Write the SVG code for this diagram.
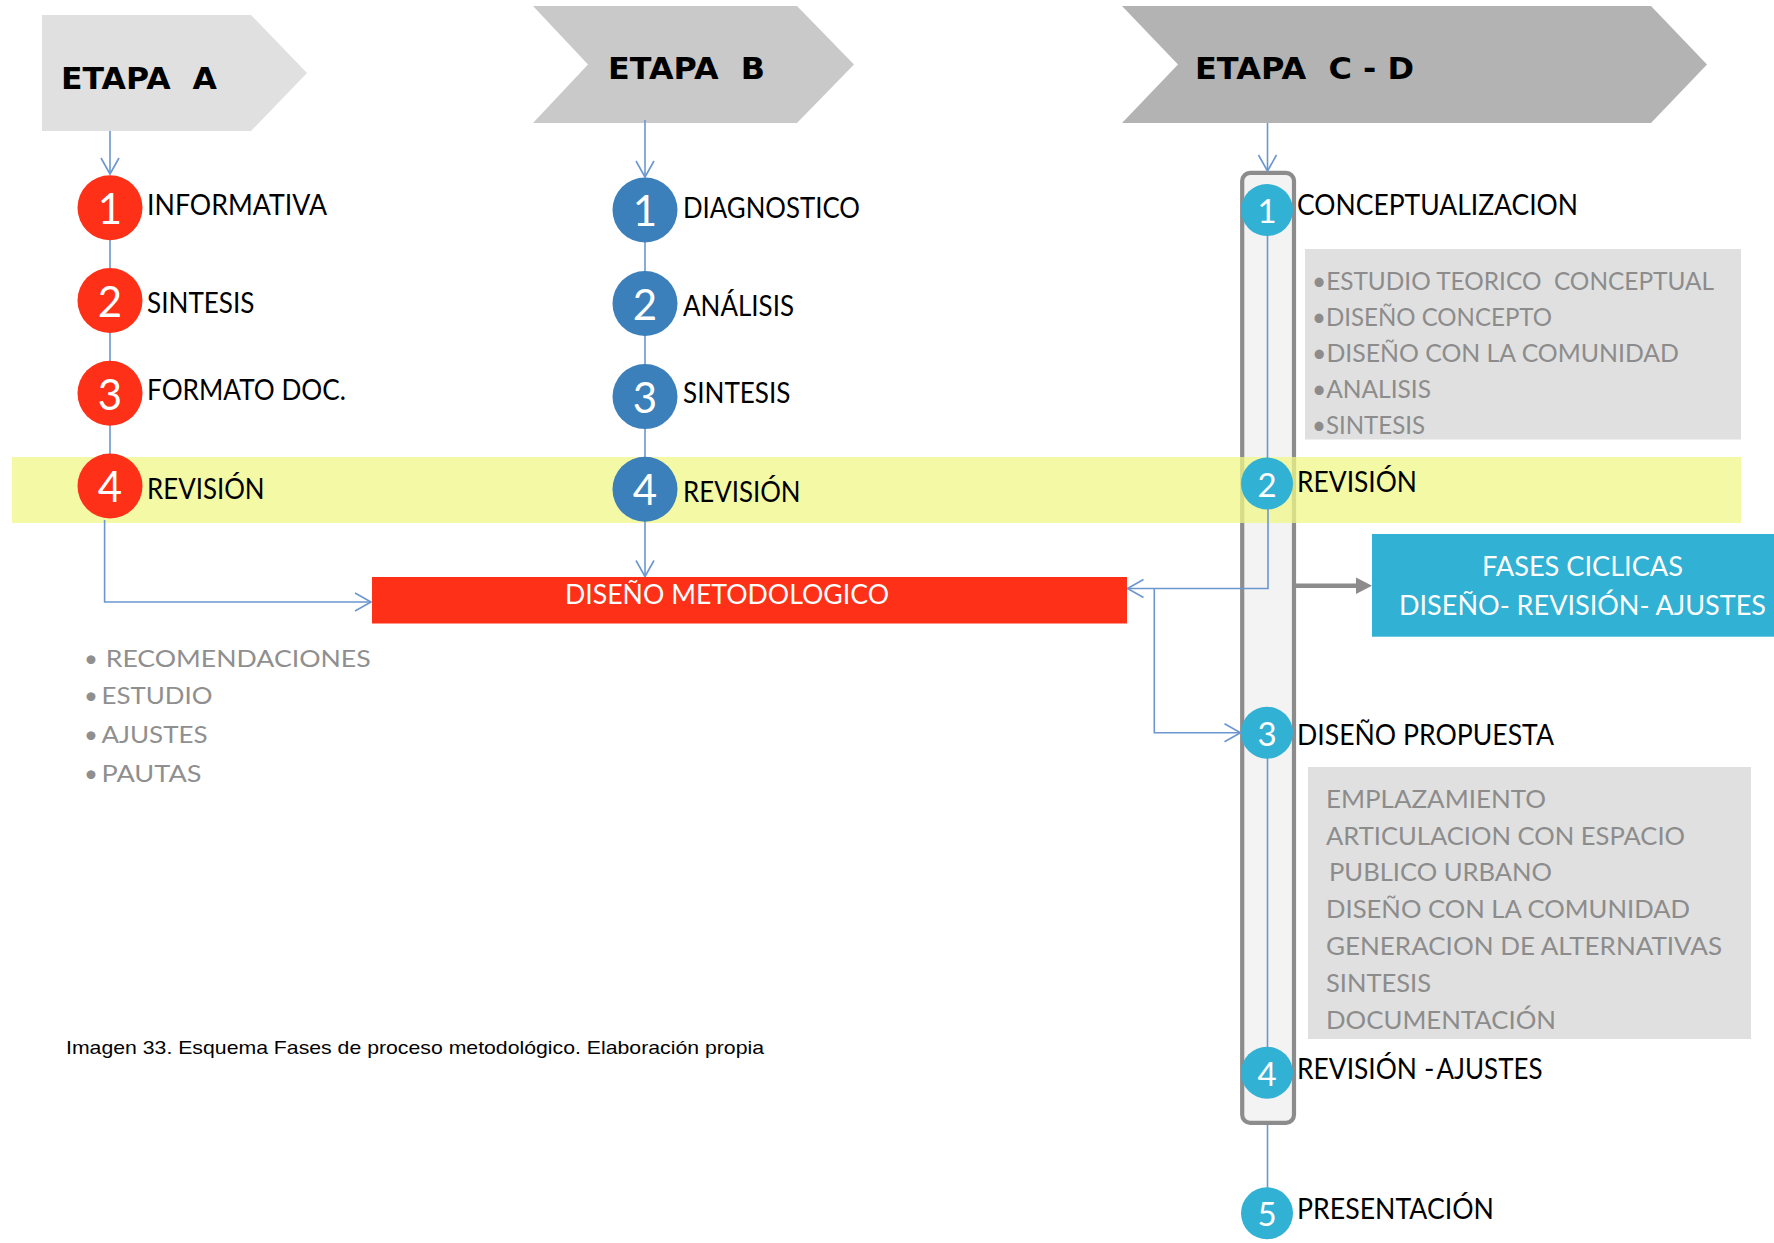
<svg xmlns="http://www.w3.org/2000/svg" width="1774" height="1243" viewBox="0 0 1774 1243">
<style>
.etapa{font-family:"DejaVu Sans","Liberation Sans",sans-serif;font-weight:bold;font-size:30px;fill:#000}
.lbl{font-family:Lato,"Open Sans",sans-serif;font-size:28px;fill:#000}
.num{font-family:Lato,"Open Sans",sans-serif;font-size:42px;fill:#fff;text-anchor:middle}
.numc{font-family:Lato,"Open Sans",sans-serif;font-size:33px;fill:#fff;text-anchor:middle}
.gtxt{font-family:Lato,"Open Sans",sans-serif;font-size:25px;fill:#8c8c8c}
.btxt{font-family:Lato,"Open Sans",sans-serif;font-size:24px;fill:#8f8f8f}
.wtxt{font-family:Lato,"Open Sans",sans-serif;font-size:26px;fill:#fff}
.cap{font-family:"Liberation Sans",Arial,sans-serif;font-size:19px;fill:#000}
.conn{fill:none;stroke:#6b96cf;stroke-width:1.6}
.red{fill:#fe3017}
.blue{fill:#3b7fbb}
.cyan{fill:#31b1d4}
</style>
<defs>
<marker id="arr" markerUnits="userSpaceOnUse" markerWidth="20" markerHeight="22" refX="17" refY="10" orient="auto">
<path d="M1,1 L17,10 L1,19" fill="none" stroke="#6b96cf" stroke-width="1.6"/>
</marker>
</defs>

<g id="etapa-a">
<polygon points="42,15 251,15 307,73 251,131 42,131" fill="#e0e0e0"/>
<text class="etapa" x="61" y="89" textLength="156" lengthAdjust="spacingAndGlyphs" xml:space="preserve">ETAPA  A</text>
</g>
<g id="etapa-b">
<polygon points="533,6 797,6 854,64.5 797,123 533,123 588,64.5" fill="#c9c9c9"/>
<text class="etapa" x="608" y="79" textLength="157" lengthAdjust="spacingAndGlyphs" xml:space="preserve">ETAPA  B</text>
</g>
<g id="etapa-cd">
<polygon points="1122,6 1651,6 1707,64.5 1651,123 1122,123 1178,64.5" fill="#b3b3b3"/>
<text class="etapa" x="1195" y="79" textLength="219" lengthAdjust="spacingAndGlyphs" xml:space="preserve">ETAPA  C - D</text>
</g>

<g id="ciclo-marco">
<rect x="1242.2" y="172.8" width="51.8" height="950" rx="8" fill="#f3f3f3" stroke="#8c8c8c" stroke-width="4.2"/>
</g>

<g id="detalle-conceptualizacion">
<rect x="1305" y="249" width="436" height="190.5" fill="#e0e0e0"/>
<text class="gtxt" x="1312" y="289.5" textLength="402" lengthAdjust="spacingAndGlyphs" xml:space="preserve">•ESTUDIO TEORICO  CONCEPTUAL</text>
<text class="gtxt" x="1312" y="325.7" textLength="240" lengthAdjust="spacingAndGlyphs">•DISEÑO CONCEPTO</text>
<text class="gtxt" x="1312" y="361.7" textLength="367" lengthAdjust="spacingAndGlyphs">•DISEÑO CON LA COMUNIDAD</text>
<text class="gtxt" x="1312" y="398.3" textLength="119" lengthAdjust="spacingAndGlyphs">•ANALISIS</text>
<text class="gtxt" x="1312" y="434" textLength="113" lengthAdjust="spacingAndGlyphs">•SINTESIS</text>
</g>

<g id="detalle-propuesta">
<rect x="1308" y="767" width="443" height="272" fill="#e0e0e0"/>
<text class="gtxt" x="1326" y="808" textLength="220" lengthAdjust="spacingAndGlyphs">EMPLAZAMIENTO</text>
<text class="gtxt" x="1326" y="845" textLength="359" lengthAdjust="spacingAndGlyphs">ARTICULACION CON ESPACIO</text>
<text class="gtxt" x="1329" y="881" textLength="223" lengthAdjust="spacingAndGlyphs">PUBLICO URBANO</text>
<text class="gtxt" x="1326" y="917.5" textLength="364" lengthAdjust="spacingAndGlyphs">DISEÑO CON LA COMUNIDAD</text>
<text class="gtxt" x="1326" y="955" textLength="396" lengthAdjust="spacingAndGlyphs">GENERACION DE ALTERNATIVAS</text>
<text class="gtxt" x="1326" y="991.5" textLength="105" lengthAdjust="spacingAndGlyphs">SINTESIS</text>
<text class="gtxt" x="1326" y="1029" textLength="230" lengthAdjust="spacingAndGlyphs">DOCUMENTACIÓN</text>
</g>

<g id="banda-revision">
<rect x="12" y="457" width="1729" height="66" fill="#eff787" fill-opacity="0.75"/>
</g>

<g id="connectors">
<line class="conn" x1="110" y1="131" x2="110" y2="174" marker-end="url(#arr)"/>
<line class="conn" x1="645" y1="120" x2="645" y2="177" marker-end="url(#arr)"/>
<line class="conn" x1="1267.5" y1="123" x2="1267.5" y2="171" marker-end="url(#arr)"/>
<line class="conn" x1="110" y1="200" x2="110" y2="480"/>
<line class="conn" x1="645" y1="200" x2="645" y2="480"/>
<line class="conn" x1="1267.5" y1="215" x2="1267.5" y2="480"/>
<line class="conn" x1="1267.5" y1="735" x2="1267.5" y2="1070"/>
<line class="conn" x1="1267.5" y1="1125" x2="1267.5" y2="1190"/>
<polyline class="conn" points="104.6,520 104.6,602 371,602" marker-end="url(#arr)"/>
<line class="conn" x1="645" y1="521" x2="645" y2="576.5" marker-end="url(#arr)"/>
<polyline class="conn" points="1268,505 1268,588.5 1127.5,588.5" marker-end="url(#arr)"/>
<polyline class="conn" points="1154.3,588.5 1154.3,732.7 1240.5,732.7" marker-end="url(#arr)"/>
<line x1="1296" y1="585.7" x2="1358" y2="585.7" stroke="#8c8c8c" stroke-width="4.5"/>
<polygon points="1356,577.5 1372,585.7 1356,594" fill="#8c8c8c"/>
</g>

<g id="a1"><circle class="red" cx="110" cy="207.7" r="32.5"/><text class="num" x="110" y="224">1</text><text class="lbl" x="147" y="215" textLength="180" lengthAdjust="spacingAndGlyphs">INFORMATIVA</text></g>
<g id="a2"><circle class="red" cx="110" cy="300.5" r="32.5"/><text class="num" x="110" y="316.5">2</text><text class="lbl" x="147" y="312.7" textLength="107.5" lengthAdjust="spacingAndGlyphs">SINTESIS</text></g>
<g id="a3"><circle class="red" cx="110" cy="393.3" r="32.5"/><text class="num" x="110" y="409.5">3</text><text class="lbl" x="147" y="400" textLength="199" lengthAdjust="spacingAndGlyphs">FORMATO DOC.</text></g>
<g id="a4"><circle class="red" cx="110" cy="486" r="32.5"/><text class="num" x="110" y="502">4</text><text class="lbl" x="147" y="499" textLength="117.6" lengthAdjust="spacingAndGlyphs">REVISIÓN</text></g>

<g id="b1"><circle class="blue" cx="645" cy="210" r="32.5"/><text class="num" x="645" y="226">1</text><text class="lbl" x="683" y="217.5" textLength="177" lengthAdjust="spacingAndGlyphs">DIAGNOSTICO</text></g>
<g id="b2"><circle class="blue" cx="645" cy="303.5" r="32.5"/><text class="num" x="645" y="319.5">2</text><text class="lbl" x="683" y="315.5" textLength="111" lengthAdjust="spacingAndGlyphs">ANÁLISIS</text></g>
<g id="b3"><circle class="blue" cx="645" cy="396.6" r="32.5"/><text class="num" x="645" y="412.6">3</text><text class="lbl" x="683" y="403" textLength="107.5" lengthAdjust="spacingAndGlyphs">SINTESIS</text></g>
<g id="b4"><circle class="blue" cx="645" cy="489.3" r="32.5"/><text class="num" x="645" y="505.3">4</text><text class="lbl" x="683" y="501.7" textLength="117.6" lengthAdjust="spacingAndGlyphs">REVISIÓN</text></g>

<g id="c1"><circle class="cyan" cx="1267" cy="210" r="26"/><text class="numc" x="1267" y="223">1</text><text class="lbl" x="1297" y="215" textLength="281" lengthAdjust="spacingAndGlyphs">CONCEPTUALIZACION</text></g>
<g id="c2"><circle class="cyan" cx="1267" cy="483.6" r="26"/><text class="numc" x="1267" y="496.6">2</text><text class="lbl" x="1297" y="492" textLength="120" lengthAdjust="spacingAndGlyphs">REVISIÓN</text></g>
<g id="c3"><circle class="cyan" cx="1267" cy="732.7" r="26"/><text class="numc" x="1267" y="745.7">3</text><text class="lbl" x="1297" y="744.6" textLength="257" lengthAdjust="spacingAndGlyphs">DISEÑO PROPUESTA</text></g>
<g id="c4"><circle class="cyan" cx="1267" cy="1072.7" r="26"/><text class="numc" x="1267" y="1085.7">4</text>
<text class="lbl" x="1297" y="1079" textLength="120" lengthAdjust="spacingAndGlyphs">REVISIÓN</text>
<text class="lbl" x="1424" y="1079" font-size="18">-</text>
<text class="lbl" x="1436.5" y="1079" textLength="106" lengthAdjust="spacingAndGlyphs">AJUSTES</text></g>
<g id="c5"><circle class="cyan" cx="1267" cy="1213.3" r="26"/><text class="numc" x="1267" y="1226.3">5</text><text class="lbl" x="1297" y="1219" textLength="197" lengthAdjust="spacingAndGlyphs">PRESENTACIÓN</text></g>

<g id="diseno-metodologico">
<rect x="372" y="577" width="755" height="46.5" class="red"/>
<text class="wtxt" x="565" y="604" textLength="324" lengthAdjust="spacingAndGlyphs">DISEÑO METODOLOGICO</text>
</g>

<g id="fases-ciclicas">
<rect x="1372" y="534" width="402" height="102.7" class="cyan"/>
<text class="wtxt" x="1482" y="576" font-size="28" textLength="201" lengthAdjust="spacingAndGlyphs">FASES CICLICAS</text>
<text class="wtxt" x="1399" y="615" font-size="28" textLength="367" lengthAdjust="spacingAndGlyphs">DISEÑO- REVISIÓN- AJUSTES</text>
</g>

<g id="lista-revision">
<text class="btxt" x="84" y="667.3">•</text>
<text class="btxt" x="105.7" y="667.3" textLength="265" lengthAdjust="spacingAndGlyphs">RECOMENDACIONES</text>
<text class="btxt" x="84" y="704.3">•</text>
<text class="btxt" x="101.5" y="704.3" textLength="111" lengthAdjust="spacingAndGlyphs">ESTUDIO</text>
<text class="btxt" x="84" y="742.7">•</text>
<text class="btxt" x="101.5" y="742.7" textLength="106" lengthAdjust="spacingAndGlyphs">AJUSTES</text>
<text class="btxt" x="84" y="781.7">•</text>
<text class="btxt" x="101.5" y="781.7" textLength="100" lengthAdjust="spacingAndGlyphs">PAUTAS</text>
</g>

<g id="caption">
<text class="cap" x="66" y="1054" textLength="698" lengthAdjust="spacingAndGlyphs">Imagen 33. Esquema Fases de proceso metodológico. Elaboración propia</text>
</g>
</svg>
